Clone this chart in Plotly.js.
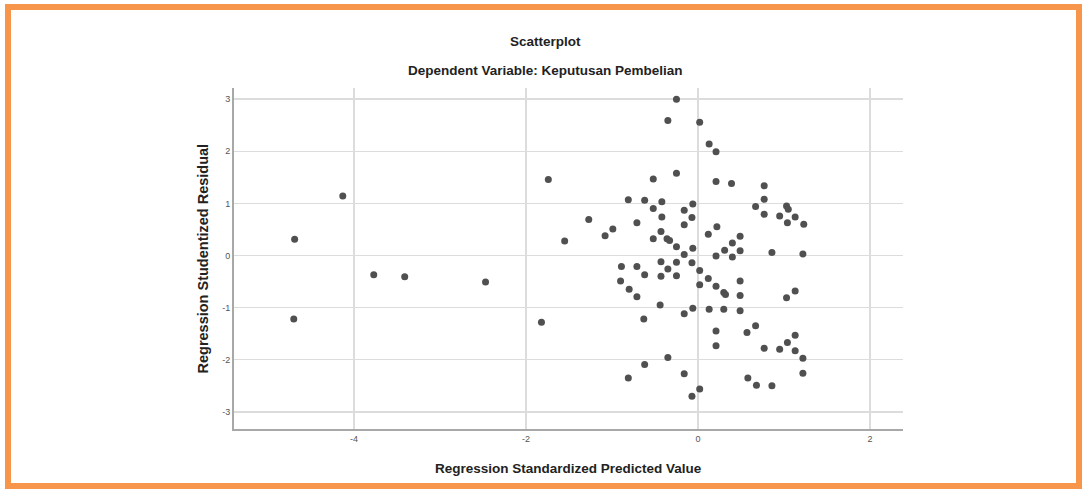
<!DOCTYPE html>
<html>
<head>
<meta charset="utf-8">
<script src="https://cdn.plot.ly/plotly-3.0.1.min.js"></script>
<style>
  html, body { margin: 0; padding: 0; background: #ffffff; }
  #chart { width: 1082px; height: 489px; }
  #frame { position: absolute; left: 5px; top: 4px; width: 1065px; height: 473px; border: 6px solid #F7964A; pointer-events: none; }
</style>
</head>
<body>
<div id="chart"></div>
<div id="frame"></div>
<script>
// Regression Standardized Predicted Value
const predicted = [
  -0.25, -0.35, 0.02, 0.13, 0.21, -1.74, -0.52, -0.25, 0.21, 0.39,
  0.77, -0.81, -0.62, -0.42, -0.52, -0.06, -0.16, -0.07, -0.42, -0.16,
  -1.27, -0.71, -0.99, -1.08, -1.55, -0.43, -0.52, -0.36, -0.33, -0.25,
  -0.06, -0.16, 0.12, 0.22, 0.49, 0.40, 0.31, 0.49, 0.21, 0.40,
  0.77, 0.67, 0.77, 1.03, 1.05, 0.95, 1.13, 1.04, 1.23, 0.86,
  1.22, -0.43, -0.25, -0.07, -0.89, -0.71, -0.62, -0.35, -0.43, -0.25,
  0.02, 0.12, 0.02, 0.21, 0.30, 0.32, 0.49, 0.49, -0.90, -0.80,
  -0.71, -0.44, -0.16, -0.06, 0.13, 0.30, 0.49, 1.03, 1.13, -0.63,
  0.21, 0.57, 0.67, 0.21, 0.77, 0.95, 1.04, 1.13, 1.13, 1.22,
  1.22, -0.35, -0.62, -0.81, -0.16, 0.58, 0.68, 0.86, 0.02, -0.07,
  -4.13, -4.69, -3.77, -3.41, -2.47, -4.70, -1.82
];
// Regression Studentized Residual
const residual = [
  3.00, 2.59, 2.56, 2.14, 1.99, 1.46, 1.47, 1.58, 1.42, 1.38,
  1.34, 1.07, 1.06, 1.03, 0.90, 0.99, 0.87, 0.73, 0.74, 0.59,
  0.69, 0.63, 0.51, 0.38, 0.28, 0.46, 0.32, 0.32, 0.29, 0.17,
  0.14, 0.02, 0.41, 0.55, 0.37, 0.24, 0.10, 0.09, -0.01, -0.03,
  1.08, 0.94, 0.79, 0.95, 0.89, 0.76, 0.74, 0.63, 0.60, 0.06,
  0.03, -0.12, -0.13, -0.14, -0.21, -0.21, -0.37, -0.26, -0.40, -0.39,
  -0.29, -0.44, -0.56, -0.59, -0.71, -0.75, -0.49, -0.77, -0.49, -0.65,
  -0.79, -0.95, -1.12, -1.01, -1.03, -1.03, -1.06, -0.81, -0.68, -1.22,
  -1.45, -1.48, -1.35, -1.73, -1.78, -1.80, -1.67, -1.53, -1.83, -1.97,
  -2.26, -1.96, -2.09, -2.35, -2.27, -2.35, -2.49, -2.50, -2.56, -2.70,
  1.14, 0.31, -0.37, -0.41, -0.51, -1.22, -1.28
];
const xTicks = [-4, -2, 0, 2];
const yTicks = [-3, -2, -1, 0, 1, 2, 3];
const chartTitle = 'Scatterplot';
const chartSubtitle = 'Dependent Variable: Keputusan Pembelian';
const xTitle = 'Regression Standardized Predicted Value';
const yTitle = 'Regression Studentized Residual';

const font = 'Liberation Sans, Arial, sans-serif';
const titleFont = {family: font, size: 13.5, color: '#222222', weight: 'bold'};
const yTitleFont = {family: font, size: 14.5, color: '#222222', weight: 'bold'};

const trace = {
  type: 'scatter', mode: 'markers',
  x: predicted, y: residual,
  marker: {color: '#505050', size: 7, line: {width: 0}},
  hoverinfo: 'x+y'
};

const layout = {
  width: 1082, height: 489, autosize: false,
  margin: {l: 234, r: 179, t: 88, b: 60, pad: 0},
  paper_bgcolor: '#ffffff', plot_bgcolor: '#ffffff',
  showlegend: false,
  xaxis: {
    range: [-5.395, 2.384], tickvals: xTicks, ticktext: xTicks.map(String),
    showgrid: true, gridcolor: '#dcdcdc', gridwidth: 1.5,
    zeroline: false, showline: true, linecolor: '#a8a8a8', linewidth: 2,
    ticks: '', ticklen: 0,
    tickfont: {family: font, size: 9, color: '#555555'}
  },
  yaxis: {
    range: [-3.33, 3.215], tickvals: yTicks, ticktext: yTicks.map(String),
    showgrid: true, gridcolor: '#dcdcdc', gridwidth: 1.5,
    zeroline: false, showline: true, linecolor: '#a8a8a8', linewidth: 2,
    ticks: '', ticklen: 0,
    tickfont: {family: font, size: 9, color: '#555555'}
  },
  annotations: [
    {text: chartTitle, xref: 'paper', yref: 'paper', x: 0.466, y: (429 - 42) / 341,
     xanchor: 'center', yanchor: 'middle', showarrow: false, font: titleFont},
    {text: chartSubtitle, xref: 'paper', yref: 'paper', x: 0.466, y: (429 - 70) / 341,
     xanchor: 'center', yanchor: 'middle', showarrow: false, font: titleFont},
    {text: xTitle, xref: 'paper', yref: 'paper', x: 0.5, y: (429 - 469) / 341,
     xanchor: 'center', yanchor: 'middle', showarrow: false, font: titleFont},
    {text: yTitle, xref: 'paper', yref: 'paper', x: (202 - 234) / 669, y: 0.5,
     xanchor: 'center', yanchor: 'middle', textangle: -90, showarrow: false, font: yTitleFont}
  ]
};

Plotly.newPlot('chart', [trace], layout, {displayModeBar: false, staticPlot: true});
</script>
</body>
</html>
